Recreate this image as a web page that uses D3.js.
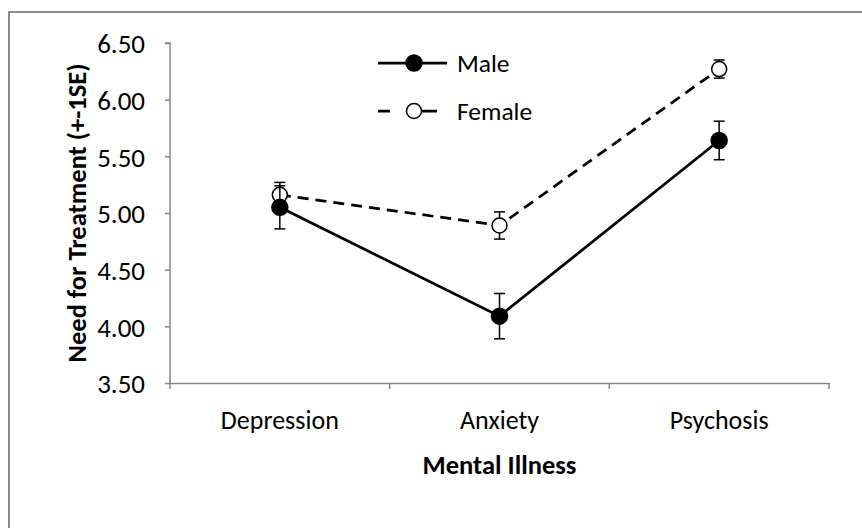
<!DOCTYPE html>
<html>
<head>
<meta charset="utf-8">
<script src="https://cdn.jsdelivr.net/npm/d3@7"></script>
<style>
  body { margin: 0; background: #fff; }
  svg { display: block; }
  svg text { font-family: Carlito, Lato, "Open Sans", sans-serif; fill: #000; }
</style>
</head>
<body>
<div id="chart"></div>
<script>
// chart values
const categories = ["Depression", "Anxiety", "Psychosis"];
const maleMeans = [5.05, 4.09, 5.64];
const maleSE = [0.19, 0.2, 0.17];
const femaleMeans = [5.16, 4.89, 6.27];
const femaleSE = [0.11, 0.12, 0.08];
const yTicks = [3.5, 4.0, 4.5, 5.0, 5.5, 6.0, 6.5];

const width = 862, height = 528;
const margin = { top: 43, right: 33, bottom: 145, left: 170 };
const w = width - margin.left - margin.right;
const h = height - margin.top - margin.bottom;

const svg = d3.select("#chart").append("svg")
  .attr("width", width)
  .attr("height", height);

// outer chart border (runs off the right/bottom edge)
svg.append("path")
  .attr("d", "M9," + (height + 5) + "V12H" + (width + 5))
  .attr("fill", "none")
  .attr("stroke", "#8c8c8c")
  .attr("stroke-width", 2);

const g = svg.append("g")
  .attr("transform", "translate(" + margin.left + "," + margin.top + ")");

const x = d3.scaleBand().domain(categories).range([0, w]);
const y = d3.scaleLinear().domain([3.5, 6.5]).range([h, 0]);
const cx = d => x(d) + x.bandwidth() / 2;

// y axis
const yAxis = g.append("g")
  .attr("class", "y axis")
  .call(d3.axisLeft(y).tickValues(yTicks).tickSize(5).tickPadding(20).tickFormat(d3.format(".2f")));
// x axis
const xAxis = g.append("g")
  .attr("class", "x axis")
  .attr("transform", "translate(0," + h + ")")
  .call(d3.axisBottom(x).tickSize(0).tickPadding(46));

[yAxis, xAxis].forEach(a => {
  a.attr("font-family", null).attr("font-size", null);
  a.select(".domain").attr("stroke", "#868686").attr("stroke-width", 1.5);
  a.selectAll(".tick line").attr("stroke", "#868686").attr("stroke-width", 1.5);
});
yAxis.selectAll("text").style("font-size", "27px").attr("dy", "0.36em");
xAxis.selectAll("text").style("font-size", "26px").attr("dy", null);
yAxis.select(".domain").attr("d", "M0," + h + "V0H-5");

// category boundary ticks
g.append("g").selectAll("line")
  .data(d3.range(categories.length + 1))
  .enter().append("line")
  .attr("x1", i => i * x.step())
  .attr("x2", i => i * x.step())
  .attr("y1", h)
  .attr("y2", h + 6)
  .attr("stroke", "#868686")
  .attr("stroke-width", 1.5);

// axis titles
g.append("text")
  .attr("transform", "translate(-84," + (h / 2) + ") rotate(-90)")
  .attr("text-anchor", "middle")
  .style("font-size", "26.5px")
  .style("font-weight", "bold")
  .text("Need for Treatment (+-1SE)");

g.append("text")
  .attr("x", w / 2)
  .attr("y", h + 91)
  .attr("text-anchor", "middle")
  .style("font-size", "26.5px")
  .style("font-weight", "bold")
  .text("Mental Illness");

const series = [
  { name: "Male", means: maleMeans, se: maleSE, dash: null, fill: "#000" },
  { name: "Female", means: femaleMeans, se: femaleSE, dash: "11,7", fill: "#fff" }
];

const line = d3.line().x(d => cx(d.cat)).y(d => y(d.v));

// draw female first so male sits on top
series.slice().reverse().forEach(s => {
  const pts = categories.map((c, i) => ({ cat: c, v: s.means[i], se: s.se[i] }));
  const sg = g.append("g");
  sg.append("path")
    .datum(pts)
    .attr("d", line)
    .attr("fill", "none")
    .attr("stroke", "#000")
    .attr("stroke-width", 2.75)
    .attr("stroke-dasharray", s.dash);

  const eb = sg.selectAll(".err").data(pts).enter().append("g");
  eb.append("line")
    .attr("x1", d => cx(d.cat)).attr("x2", d => cx(d.cat))
    .attr("y1", d => y(d.v - d.se)).attr("y2", d => y(d.v + d.se))
    .attr("stroke", "#000").attr("stroke-width", 1.5);
  [-1, 1].forEach(k => {
    eb.append("line")
      .attr("x1", d => cx(d.cat) - 5.5).attr("x2", d => cx(d.cat) + 5.5)
      .attr("y1", d => y(d.v + k * d.se)).attr("y2", d => y(d.v + k * d.se))
      .attr("stroke", "#000").attr("stroke-width", 1.5);
  });

  sg.selectAll("circle").data(pts).enter().append("circle")
    .attr("cx", d => cx(d.cat))
    .attr("cy", d => y(d.v))
    .attr("r", s.name === "Male" ? 8 : 7.5)
    .attr("fill", s.fill)
    .attr("stroke", "#000")
    .attr("stroke-width", 1.5);
});

// legend
const legend = svg.append("g").attr("transform", "translate(378,63)");
series.forEach((s, i) => {
  const row = legend.append("g").attr("transform", "translate(0," + (i * 48) + ")");
  row.append("line")
    .attr("x1", 0).attr("x2", s.dash ? 59 : 69)
    .attr("stroke", "#000").attr("stroke-width", 2.75)
    .attr("stroke-dasharray", s.dash ? "12,23,24" : null);
  row.append("circle")
    .attr("cx", 36).attr("r", s.name === "Male" ? 8 : 7.5)
    .attr("fill", s.fill).attr("stroke", "#000").attr("stroke-width", 1.5);
  row.append("text")
    .attr("x", 79)
    .attr("dy", "0.35em")
    .style("font-size", "25.5px")
    .text(s.name);
});
</script>
</body>
</html>
